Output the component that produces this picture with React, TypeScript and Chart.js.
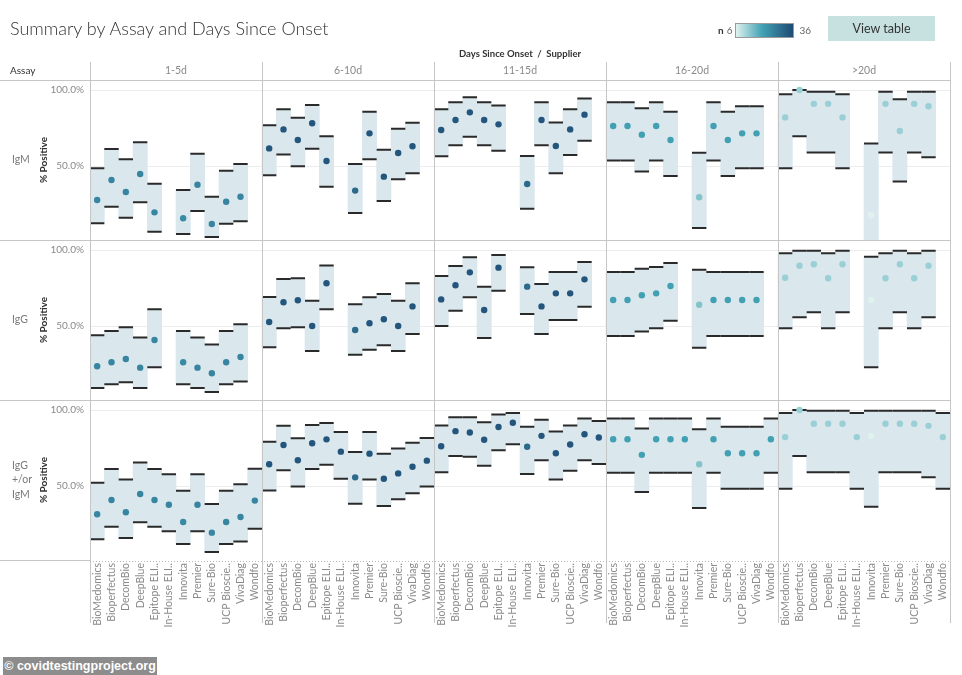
import React, { useEffect, useRef } from 'react';
import { Chart, registerables } from 'chart.js';

Chart.register(...registerables);

const SUPPLIERS = ['BioMedomics', 'Bioperfectus', 'DecomBio', 'DeepBlue', 'Epitope ELI..', 'In-House ELI..', 'Innovita', 'Premier', 'Sure-Bio', 'UCP Bioscie..', 'VivaDiag', 'Wondfo'];
const ONSET_GROUPS = ['1-5d', '6-10d', '11-15d', '16-20d', '>20d'];
const ASSAY_LABELS = [['IgM'], ['IgG'], ['IgG', '+/or', 'IgM']];
const Y_TICKS = [50, 100];
const N_MIN = 6;
const N_MAX = 36;
// sample size per onset group (colour of the estimate dots)
const N_TYPICAL = [25, 34, 34, 20, 12];
const N_INNOVITA = [24, 30, 30, 14, 6];

// IgM
const IGM_EST = [
  [27.6, 40.8, 32.9, 44.7, 19.5, null, 15.6, 37.7, 11.8, 26.5, 29.8, null],
  [61.6, 74.1, 67.1, 78.1, 53.3, null, 33.8, 71.5, 43.0, 58.6, 63.0, null],
  [73.7, 80.3, 85.3, 80.3, 77.4, null, 38.2, 80.3, 63.2, 74.1, 83.8, null],
  [76.3, 76.3, 70.6, 76.3, 67.1, null, 29.4, 76.3, 67.1, 71.5, 71.5, null],
  [82.0, 100, 90.9, 90.9, 82.0, null, 17.6, 90.9, 73.0, 90.9, 89.3, null],
];
const IGM_LO = [
  [12.3, 23.2, 16.0, 26.1, 6.8, null, 5.3, 20.4, 3.3, 12.0, 13.6, null],
  [43.9, 57.5, 49.8, 61.4, 36.4, null, 19.1, 54.4, 27.0, 41.2, 45.2, null],
  [56.4, 63.6, 69.3, 63.6, 60.1, null, 21.9, 63.6, 45.2, 57.2, 66.7, null],
  [53.7, 53.7, 46.3, 53.7, 43.4, null, 9.2, 53.7, 43.4, 48.5, 48.5, null],
  [48.5, 69.6, 58.9, 58.9, 48.5, null, 0, 58.9, 39.8, 58.9, 55.7, null],
];
const IGM_HI = [
  [48.5, 61.2, 54.4, 65.6, 38.4, null, 34.2, 58.1, 29.8, 46.9, 51.3, null],
  [76.8, 87.3, 81.8, 90.1, 69.5, null, 51.3, 85.7, 60.7, 74.5, 78.5, null],
  [87.3, 91.9, 95.2, 91.9, 89.9, null, 56.6, 91.9, 78.7, 87.3, 94.5, null],
  [91.9, 91.9, 88.0, 91.9, 85.7, null, 58.8, 91.9, 85.7, 89.3, 89.3, null],
  [97.2, 100, 98.9, 98.9, 97.2, null, 64.8, 98.9, 93.9, 98.9, 98.9, null],
];

// IgG
const IGG_EST = [
  [23.5, 26.1, 28.3, 22.6, 40.8, null, 26.1, 22.6, 18.9, 26.1, 29.6, null],
  [52.6, 65.6, 66.9, 50.0, 78.1, null, 47.4, 51.8, 54.4, 50.0, 62.9, null],
  [67.5, 76.8, 85.3, 60.5, 88.4, null, 75.9, 62.9, 71.5, 71.5, 80.7, null],
  [67.1, 67.1, 70.2, 71.5, 76.3, null, 64.0, 67.1, 67.1, 67.1, 67.1, null],
  [81.8, 89.7, 90.6, 81.4, 90.6, null, 67.1, 81.4, 90.6, 81.4, 89.7, null],
];
const IGG_LO = [
  [9.2, 11.6, 12.9, 9.2, 22.8, null, 11.6, 9.2, 6.6, 11.6, 13.4, null],
  [36.0, 48.5, 49.1, 33.6, 61.0, null, 31.1, 34.4, 37.3, 33.6, 44.7, null],
  [50.0, 60.1, 68.9, 42.1, 73.2, null, 57.9, 44.7, 53.9, 53.9, 62.7, null],
  [43.4, 43.4, 46.3, 48.5, 53.5, null, 35.7, 43.4, 43.4, 43.4, 43.4, null],
  [48.5, 55.7, 59.0, 48.5, 59.0, null, 22.8, 48.5, 59.0, 48.5, 55.7, null],
];
const IGG_HI = [
  [43.9, 46.7, 49.1, 42.5, 61.0, null, 46.7, 42.5, 37.9, 46.7, 51.1, null],
  [69.1, 80.9, 81.4, 66.7, 89.9, null, 64.3, 68.9, 71.1, 66.7, 78.1, null],
  [82.9, 89.5, 95.2, 75.9, 96.7, null, 88.6, 77.6, 85.5, 85.5, 92.1, null],
  [85.5, 85.5, 87.7, 88.8, 91.4, null, 87.1, 85.5, 85.5, 85.5, 85.5, null],
  [97.8, 99.6, 99.6, 97.8, 99.6, null, 95.6, 97.8, 99.6, 97.8, 99.6, null],
];

// IgG +/or IgM
const ANY_EST = [
  [31.4, 40.8, 32.7, 44.7, 40.8, 37.7, 26.3, 37.7, 19.3, 26.3, 29.6, 40.4],
  [64.3, 77.0, 66.9, 78.1, 80.7, 72.6, 55.7, 71.3, 54.8, 58.3, 62.7, 66.7],
  [76.2, 86.1, 85.2, 80.4, 88.8, 91.6, 75.8, 83.0, 71.6, 77.3, 84.1, 81.9],
  [80.8, 80.8, 70.5, 80.8, 80.8, 80.8, 64.3, 80.8, 71.6, 71.6, 71.6, 80.8],
  [82.2, 100, 91.0, 91.0, 91.0, 82.2, 83.0, 91.0, 91.0, 91.0, 89.6, 82.2],
];
const ANY_LO = [
  [14.9, 23.2, 15.8, 26.1, 23.2, 20.2, 11.8, 20.2, 6.6, 11.8, 13.4, 21.9],
  [47.1, 60.3, 49.6, 61.2, 64.0, 54.8, 38.4, 54.2, 36.8, 41.2, 45.2, 49.6],
  [59.0, 69.8, 69.2, 63.4, 73.6, 77.5, 57.9, 67.0, 54.2, 60.1, 67.0, 64.5],
  [58.8, 58.8, 46.0, 58.8, 58.8, 58.8, 35.5, 58.8, 48.2, 48.2, 48.2, 58.8],
  [48.2, 69.8, 59.0, 59.0, 59.0, 48.2, 36.3, 59.0, 59.0, 59.0, 55.7, 48.2],
];
const ANY_HI = [
  [52.2, 61.2, 54.2, 65.4, 61.2, 57.7, 46.9, 57.7, 38.2, 46.9, 51.1, 61.4],
  [79.2, 89.7, 81.4, 90.1, 91.4, 85.5, 72.4, 85.5, 71.3, 74.6, 78.5, 81.6],
  [89.9, 95.2, 95.2, 91.9, 97.1, 98.0, 89.0, 93.6, 85.9, 89.9, 94.5, 92.7],
  [94.5, 94.5, 87.9, 94.5, 94.5, 94.5, 87.4, 94.5, 89.0, 89.0, 89.0, 94.5],
  [98.0, 100, 99.6, 99.6, 99.6, 98.0, 99.6, 99.6, 99.6, 99.6, 99.6, 98.0],
];

const ROWS = [
  { id: 'yA', est: IGM_EST, lo: IGM_LO, hi: IGM_HI },
  { id: 'yB', est: IGG_EST, lo: IGG_LO, hi: IGG_HI },
  { id: 'yC', est: ANY_EST, lo: ANY_LO, hi: ANY_HI },
];

const FONT = 'Lato, "Open Sans", sans-serif';
const BAND_COLOR = '#dae7ed';
const TICK_COLOR = '#2a2a2a';
const GRID_COLOR = '#ececec';
const SEP_COLOR = '#c6c6c6';

function hexToRgb(h: string) {
  const n = parseInt(h.slice(1), 16);
  return [(n >> 16) & 255, (n >> 8) & 255, n & 255];
}
const GRAD_STOPS: [number, string][] = [[0, '#dff2ee'], [0.45, '#43a3b5'], [1, '#1f4a75']];
function nColor(n: number) {
  const t = Math.max(0, Math.min(1, (n - N_MIN) / (N_MAX - N_MIN)));
  for (let i = 0; i < GRAD_STOPS.length - 1; i++) {
    const [t0, c0] = GRAD_STOPS[i];
    const [t1, c1] = GRAD_STOPS[i + 1];
    if (t <= t1) {
      const f = (t - t0) / (t1 - t0);
      const a = hexToRgb(c0), b = hexToRgb(c1);
      const m = a.map((v, k) => Math.round(v + (b[k] - v) * f));
      return `rgb(${m[0]},${m[1]},${m[2]})`;
    }
  }
  return GRAD_STOPS[GRAD_STOPS.length - 1][1];
}

const LABELS = ONSET_GROUPS.flatMap(() => SUPPLIERS);
const DOT_COLORS = ONSET_GROUPS.flatMap((_, g) =>
  SUPPLIERS.map((s) => nColor(s === 'Innovita' ? N_INNOVITA[g] : N_TYPICAL[g]))
);

const framePlugin = {
  id: 'frame',
  afterDraw(chart: any) {
    const ctx = chart.ctx as CanvasRenderingContext2D;
    const xs = chart.scales.x;
    const ys = ROWS.map((r) => chart.scales[r.id]);
    const colW = xs.width / ONSET_GROUPS.length;
    const top = ys[0].top;
    const bottom = ys[ys.length - 1].bottom;
    const line = (x1: number, y1: number, x2: number, y2: number) => {
      ctx.beginPath();
      ctx.moveTo(x1, y1);
      ctx.lineTo(x2, y2);
      ctx.stroke();
    };
    ctx.save();
    ctx.strokeStyle = SEP_COLOR;
    ctx.lineWidth = 1;
    for (let c = 0; c <= ONSET_GROUPS.length; c++) {
      const x = Math.round(xs.left + c * colW) + 0.5;
      line(x, top - 18, x, bottom + 63);
    }
    ys.forEach((s) => line(0, Math.round(s.top) + 0.5, xs.right, Math.round(s.top) + 0.5));
    line(0, Math.round(bottom) + 0.5, xs.left, Math.round(bottom) + 0.5);
    ctx.setLineDash([1, 2]);
    ctx.strokeStyle = '#b8b8b8';
    line(xs.left, Math.round(bottom) + 1.5, xs.right, Math.round(bottom) + 1.5);
    ctx.setLineDash([]);

    // headers
    ctx.textBaseline = 'middle';
    ctx.fillStyle = '#333';
    ctx.font = `bold 9.5px ${FONT}`;
    ctx.textAlign = 'center';
    ctx.fillText('Days Since Onset  /  Supplier', xs.left + xs.width / 2, top - 26);
    ctx.font = `10px ${FONT}`;
    ctx.textAlign = 'left';
    ctx.fillText('Assay', 10, top - 9);
    ctx.fillStyle = '#8a8a8a';
    ctx.font = `10.5px ${FONT}`;
    ctx.textAlign = 'center';
    ONSET_GROUPS.forEach((g, c) => ctx.fillText(g, xs.left + (c + 0.5) * colW, top - 9));

    // row labels and axis titles
    ys.forEach((s, r) => {
      const cy = (s.top + s.bottom) / 2;
      const lines = ASSAY_LABELS[r];
      ctx.fillStyle = '#7a7a7a';
      ctx.font = `10.5px ${FONT}`;
      ctx.textAlign = 'left';
      lines.forEach((t, i) => ctx.fillText(t, 12, cy + (i - (lines.length - 1) / 2) * 14.5));
      ctx.save();
      ctx.translate(44, cy);
      ctx.rotate(-Math.PI / 2);
      ctx.textAlign = 'center';
      ctx.fillStyle = '#333';
      ctx.font = `bold 10px ${FONT}`;
      ctx.fillText('% Positive', 0, 0);
      ctx.restore();
    });
    ctx.restore();
  },
};

function rowScale() {
  return {
    type: 'linear',
    position: 'left',
    stack: 'rows',
    stackWeight: 1,
    min: 1.3,
    max: 106.6,
    afterBuildTicks: (s: any) => {
      s.ticks = Y_TICKS.map((v) => ({ value: v }));
    },
    afterFit: (s: any) => {
      s.width = 90;
    },
    ticks: {
      padding: 6,
      color: '#8a8a8a',
      font: { family: FONT, size: 10 },
      callback: (v: any) => Number(v).toFixed(1) + '%',
    },
    grid: { color: GRID_COLOR, drawTicks: false },
    border: { display: false },
  };
}

export default function App() {
  const ref = useRef<HTMLCanvasElement | null>(null);
  useEffect(() => {
    if (!ref.current) return;
    const datasets: any[] = [];
    ROWS.forEach((row) => {
      const est = row.est.flat();
      const lo = row.lo.flat();
      const hi = row.hi.flat();
      const halfCat = (c: any) => c.chart.scales.x.width / LABELS.length / 2;
      datasets.push({
        type: 'line',
        label: row.id + ' estimate',
        data: est,
        yAxisID: row.id,
        showLine: false,
        pointRadius: 3.2,
        pointHoverRadius: 3.2,
        pointBorderWidth: 0,
        pointBackgroundColor: DOT_COLORS,
        pointBorderColor: DOT_COLORS,
        order: 0,
      });
      [hi, lo].forEach((vals, k) => {
        datasets.push({
          type: 'line',
          label: row.id + (k ? ' lower' : ' upper'),
          data: vals,
          yAxisID: row.id,
          showLine: false,
          pointStyle: 'line',
          pointRadius: halfCat,
          pointHoverRadius: halfCat,
          pointBorderWidth: 2,
          pointBorderColor: TICK_COLOR,
          pointBackgroundColor: TICK_COLOR,
          order: 1,
        });
      });
      datasets.push({
        type: 'bar',
        label: row.id + ' interval',
        data: lo.map((l, i) => (l === null || hi[i] === null ? null : [l, hi[i]])),
        yAxisID: row.id,
        backgroundColor: BAND_COLOR,
        borderWidth: 0,
        barPercentage: 1,
        categoryPercentage: 1,
        grouped: false,
        order: 2,
      });
    });

    const chart = new Chart(ref.current, {
      type: 'bar',
      data: { labels: LABELS, datasets },
      options: {
        responsive: false,
        animation: false,
        events: [],
        layout: { padding: { top: 80, right: 12, left: 0, bottom: 0 } },
        plugins: { legend: { display: false }, tooltip: { enabled: false }, title: { display: false } },
        scales: {
          x: {
            type: 'category',
            offset: true,
            grid: { display: false, drawTicks: false },
            border: { display: false },
            ticks: {
              autoSkip: false,
              maxRotation: 90,
              minRotation: 90,
              padding: 3,
              color: '#8a8a8a',
              font: { family: FONT, size: 10.5 },
            },
            afterFit: (s: any) => {
              s.height = 115;
            },
          },
          yC: rowScale(),
          yB: rowScale(),
          yA: rowScale(),
        } as any,
      },
      plugins: [framePlugin],
    } as any);
    return () => chart.destroy();
  }, []);

  return (
    <div style={{ position: 'absolute', left: 0, top: 0, width: 962, height: 675, background: '#fff', fontFamily: FONT }}>
      <canvas ref={ref} width={962} height={675} style={{ position: 'absolute', left: 0, top: 0 }} />
      <div style={{ position: 'absolute', left: 10, top: 17, fontSize: 18, fontWeight: 300, color: '#333', whiteSpace: 'nowrap' }}>
        Summary by Assay and Days Since Onset
      </div>
      <div style={{ position: 'absolute', left: 718, top: 23, height: 14, display: 'flex', alignItems: 'center', fontSize: 10, color: '#666' }}>
        <span style={{ fontWeight: 'bold', color: '#333', marginRight: 3 }}>n</span>
        <span style={{ marginRight: 3 }}>6</span>
        <span
          style={{
            display: 'inline-block',
            width: 57,
            height: 13,
            border: '1px solid #9a9a9a',
            background: `linear-gradient(to right, ${GRAD_STOPS.map(([t, c]) => `${c} ${t * 100}%`).join(', ')})`,
            marginRight: 5,
          }}
        />
        <span>36</span>
      </div>
      <div
        style={{
          position: 'absolute',
          left: 828,
          top: 16,
          width: 107,
          height: 25,
          background: '#c7e1e1',
          color: '#333',
          fontSize: 12.5,
          display: 'flex',
          alignItems: 'center',
          justifyContent: 'center',
        }}
      >
        View table
      </div>
      <div
        style={{
          position: 'absolute',
          left: 3,
          top: 657,
          width: 154,
          height: 18,
          background: '#8c8c8c',
          color: '#fff',
          fontFamily: 'Arial, "Liberation Sans", sans-serif',
          fontWeight: 'bold',
          fontSize: 12.5,
          display: 'flex',
          alignItems: 'center',
          justifyContent: 'center',
          whiteSpace: 'nowrap',
        }}
      >
        © covidtestingproject.org
      </div>
    </div>
  );
}
